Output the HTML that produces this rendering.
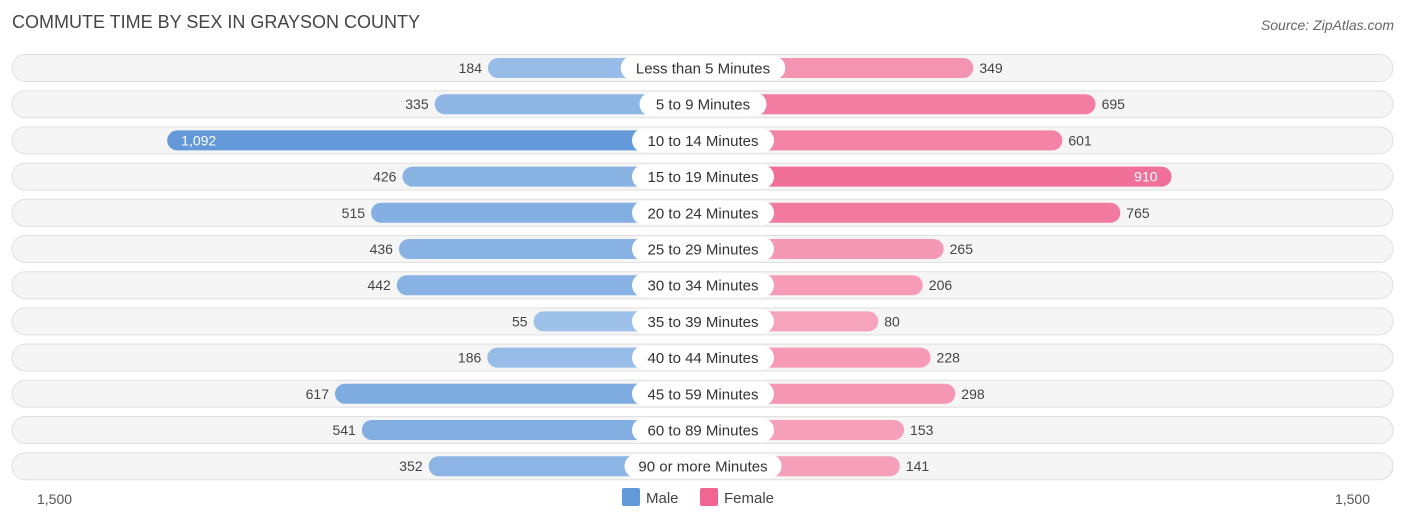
<!DOCTYPE html>
<html><head><meta charset="utf-8"><style>
body{margin:0;background:#fff;font-family:"Liberation Sans",sans-serif;}
</style></head><body>
<svg id="c" width="1406" height="523" xmlns="http://www.w3.org/2000/svg">
<text x="12" y="28" font-size="18" fill="#444">COMMUTE TIME BY SEX IN GRAYSON COUNTY</text>
<text x="1394" y="30" font-size="14" fill="#666" font-style="italic" text-anchor="end">Source: ZipAtlas.com</text>
<text x="37" y="504" font-size="14" fill="#555">1,500</text>
<text x="1370" y="504" font-size="14" fill="#555" text-anchor="end">1,500</text>
<rect x="622" y="488" width="18" height="18" rx="2" fill="#6399d9"/>
<text x="646" y="503" font-size="15" fill="#444">Male</text>
<rect x="700" y="488" width="18" height="18" rx="2" fill="#f06591"/>
<text x="724" y="503" font-size="15" fill="#444">Female</text>
<g id="rows"></g>
</svg>
<script>
const categories=["Less than 5 Minutes","5 to 9 Minutes","10 to 14 Minutes","15 to 19 Minutes","20 to 24 Minutes","25 to 29 Minutes","30 to 34 Minutes","35 to 39 Minutes","40 to 44 Minutes","45 to 59 Minutes","60 to 89 Minutes","90 or more Minutes"];
const male=[184,335,1092,426,515,436,442,55,186,617,541,352];
const female=[349,695,601,910,765,265,206,80,228,298,153,141];
const axisMax=1500;
const NS="http://www.w3.org/2000/svg";
const g=document.getElementById('rows');
const maleZero=553,femaleZero=850,scale=(1380-850)/axisMax,center=703;
const xm=v=>maleZero-v*scale, xf=v=>femaleZero+v*scale;
const y0=68,step=36.2;
const mx=Math.max(...male,...female);
function mix(a,b,t){return 'rgb('+a.map((c,i)=>Math.round(c+(b[i]-c)*t)).join(',')+')';}
function el(tag,attrs,name){const e=document.createElementNS(NS,tag);for(const k in attrs)e.setAttribute(k,attrs[k]);


g.appendChild(e);return e;}
function fmt(v){return v.toLocaleString('en-US');}
categories.forEach((cat,i)=>{
  const cy=y0+i*step;
  el('rect',{x:12,y:cy-13.5,width:1381,height:27,rx:13.5,fill:'#f5f5f5',stroke:'#e0e0e0','stroke-width':1},'row-background');
  const mt=Math.min(1,male[i]/mx), ft=Math.min(1,female[i]/mx);
  const ml=xm(male[i]);
  el('rect',{x:ml,y:cy-10,width:center-ml,height:20,rx:10,fill:mix([160,195,234],[99,153,217],mt)},'bar-male');
  const fr=xf(female[i]);
  el('rect',{x:center,y:cy-10,width:fr-center,height:20,rx:10,fill:mix([247,168,193],[240,101,145],ft)},'bar-female');
  const lw=cat.length*7.5+22;
  el('rect',{x:center-lw/2,y:cy-12,width:lw,height:24,rx:12,fill:'#fff'},'category-label-bg');
  const t=el('text',{x:center,y:cy+5.5,'font-size':15,fill:'#333','text-anchor':'middle'},'category-label');t.textContent=cat;
  let mtx;
  if(male[i]>900){mtx=el('text',{x:ml+14,y:cy+5,'font-size':14,fill:'#fff'},'value-male');}
  else{mtx=el('text',{x:ml-6,y:cy+5,'font-size':14,fill:'#444','text-anchor':'end'},'value-male');}
  mtx.textContent=fmt(male[i]);
  let ftx;
  if(female[i]>900){ftx=el('text',{x:fr-14,y:cy+5,'font-size':14,fill:'#fff','text-anchor':'end'},'value-female');}
  else{ftx=el('text',{x:fr+6,y:cy+5,'font-size':14,fill:'#444'},'value-female');}
  ftx.textContent=fmt(female[i]);
});
</script>
</body></html>
